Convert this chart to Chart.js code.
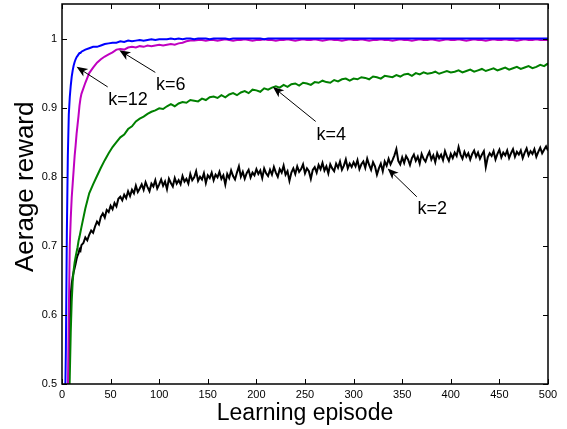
<!DOCTYPE html>
<html>
<head>
<meta charset="utf-8">
<script src="https://cdn.jsdelivr.net/npm/chart.js@4/dist/chart.umd.min.js"></script>
<style>
  body { margin: 0; background: #fff; }
  canvas { display: block; }
</style>
</head>
<body>
<canvas id="chart" width="567" height="429"></canvas>
<script>
const episodes = [
  1, 2, 3, 4, 5, 6, 7, 8, 9, 10, 11, 12, 13, 14, 15, 16, 17, 18, 19, 20,
  24, 28, 32, 36, 40, 44, 48, 52, 56, 60,
  64, 68, 72, 76, 80, 84, 88, 92, 96, 100,
  104, 108, 112, 116, 120, 124, 128, 132, 136, 140,
  144, 148, 152, 156, 160, 164, 168, 172, 176, 180,
  184, 188, 192, 196, 200, 204, 208, 212, 216, 220,
  224, 228, 232, 236, 240, 244, 248, 252, 256, 260,
  264, 268, 272, 276, 280, 284, 288, 292, 296, 300,
  304, 308, 312, 316, 320, 324, 328, 332, 336, 340,
  344, 348, 352, 356, 360, 364, 368, 372, 376, 380,
  384, 388, 392, 396, 400, 404, 408, 412, 416, 420,
  424, 428, 432, 436, 440, 444, 448, 452, 456, 460,
  464, 468, 472, 476, 480, 484, 488, 492, 496, 500
];

// the k=2 curve is noisier, so it was read more densely
const episodesFine = [
  1, 2, 3, 4, 5, 6, 7, 8, 9, 10, 11, 12, 13, 14, 15, 16, 17, 18, 19, 20,
  22, 24, 26, 28, 30, 32, 34, 36, 38, 40,
  42, 44, 46, 48, 50, 52, 54, 56, 58, 60,
  62, 64, 66, 68, 70, 72, 74, 76, 78, 80,
  82, 84, 86, 88, 90, 92, 94, 96, 98, 100,
  102, 104, 106, 108, 110, 112, 114, 116, 118, 120,
  122, 124, 126, 128, 130, 132, 134, 136, 138, 140,
  142, 144, 146, 148, 150, 152, 154, 156, 158, 160,
  162, 164, 166, 168, 170, 172, 174, 176, 178, 180,
  182, 184, 186, 188, 190, 192, 194, 196, 198, 200,
  202, 204, 206, 208, 210, 212, 214, 216, 218, 220,
  222, 224, 226, 228, 230, 232, 234, 236, 238, 240,
  242, 244, 246, 248, 250, 252, 254, 256, 258, 260,
  262, 264, 266, 268, 270, 272, 274, 276, 278, 280,
  282, 284, 286, 288, 290, 292, 294, 296, 298, 300,
  302, 304, 306, 308, 310, 312, 314, 316, 318, 320,
  322, 324, 326, 328, 330, 332, 334, 336, 338, 340,
  342, 344, 346, 348, 350, 352, 354, 356, 358, 360,
  362, 364, 366, 368, 370, 372, 374, 376, 378, 380,
  382, 384, 386, 388, 390, 392, 394, 396, 398, 400,
  402, 404, 406, 408, 410, 412, 414, 416, 418, 420,
  422, 424, 426, 428, 430, 432, 434, 436, 438, 440,
  442, 444, 446, 448, 450, 452, 454, 456, 458, 460,
  462, 464, 466, 468, 470, 472, 474, 476, 478, 480,
  482, 484, 486, 488, 490, 492, 494, 496, 498, 500
];

const rewardK12 = [
  0.20, 0.33, 0.45, 0.55, 0.72, 0.83, 0.89, 0.915, 0.932, 0.945, 0.954, 0.961, 0.966, 0.970, 0.973, 0.975, 0.977, 0.979, 0.979, 0.981,
  0.984, 0.986, 0.988, 0.988, 0.990, 0.992, 0.993, 0.994, 0.994, 0.996,
  0.995, 0.997, 0.996, 0.997, 0.998, 0.997, 0.998, 0.999, 0.998, 0.999,
  0.999, 0.999, 1.000, 0.999, 1.000, 0.999, 1.000, 1.000, 0.999, 1.000,
  1.000, 1.000, 0.999, 1.000, 1.000, 1.000, 1.000, 0.999, 1.000, 1.000,
  1.000, 1.000, 1.000, 1.000, 1.000, 1.000, 0.999, 1.000, 1.000, 1.000,
  1.000, 1.000, 1.000, 1.000, 1.000, 1.000, 1.000, 1.000, 1.000, 1.000,
  1.000, 1.000, 1.000, 1.000, 1.000, 1.000, 1.000, 1.000, 1.000, 1.000,
  1.000, 1.000, 1.000, 1.000, 1.000, 1.000, 1.000, 1.000, 1.000, 1.000,
  1.000, 1.000, 1.000, 1.000, 1.000, 1.000, 1.000, 1.000, 1.000, 1.000,
  1.000, 1.000, 1.000, 1.000, 1.000, 1.000, 1.000, 1.000, 1.000, 1.000,
  1.000, 1.000, 1.000, 1.000, 1.000, 1.000, 1.000, 1.000, 1.000, 1.000,
  1.000, 1.000, 1.000, 1.000, 1.000, 1.000, 1.000, 1.000, 1.000, 1.000
];

const rewardK6 = [
  0.10, 0.18, 0.26, 0.34, 0.42, 0.48, 0.60, 0.70, 0.74, 0.77, 0.79, 0.81, 0.83, 0.845, 0.862, 0.875, 0.888, 0.903, 0.913, 0.920,
  0.936, 0.950, 0.958, 0.965, 0.970, 0.974, 0.977, 0.980, 0.984, 0.985,
  0.984, 0.987, 0.988, 0.987, 0.989, 0.988, 0.990, 0.989, 0.990, 0.991,
  0.990, 0.991, 0.992, 0.991, 0.993, 0.994, 0.996, 0.997, 0.997, 0.998,
  0.998, 0.997, 0.998, 0.998, 0.997, 0.998, 0.999, 0.998, 0.997, 0.998,
  0.998, 0.999, 0.998, 0.997, 0.998, 0.998, 0.999, 0.998, 0.998, 0.997,
  0.998, 0.998, 0.999, 0.998, 0.997, 0.998, 0.999, 0.998, 0.998, 0.999,
  0.998, 0.997, 0.998, 0.999, 0.998, 0.998, 0.997, 0.998, 0.999, 0.998,
  0.998, 0.999, 0.998, 0.997, 0.998, 0.998, 0.999, 0.998, 0.998, 0.997,
  0.998, 0.999, 0.998, 0.998, 0.997, 0.998, 0.999, 0.998, 0.998, 0.999,
  0.998, 0.997, 0.998, 0.999, 0.998, 0.998, 0.999, 0.998, 0.997, 0.998,
  0.999, 0.998, 0.998, 0.997, 0.998, 0.999, 0.998, 0.998, 0.999, 0.998,
  0.998, 0.997, 0.998, 0.999, 0.998, 0.998, 0.999, 0.998, 0.998, 0.998
];

const rewardK4 = [
  0.10, 0.17, 0.24, 0.30, 0.36, 0.41, 0.45, 0.51, 0.575, 0.62, 0.648, 0.665, 0.676, 0.684, 0.691, 0.698, 0.707, 0.713, 0.720, 0.727,
  0.754, 0.776, 0.789, 0.801, 0.813, 0.824, 0.834, 0.843, 0.850, 0.857,
  0.861, 0.869, 0.873, 0.880, 0.884, 0.887, 0.891, 0.894, 0.896, 0.899,
  0.898, 0.902, 0.905, 0.902, 0.906, 0.908, 0.907, 0.911, 0.910, 0.909,
  0.913, 0.911, 0.915, 0.916, 0.914, 0.918, 0.915, 0.919, 0.921, 0.918,
  0.922, 0.924, 0.921, 0.926, 0.925, 0.923, 0.928, 0.926, 0.929, 0.931,
  0.929, 0.933, 0.930, 0.934, 0.935, 0.932, 0.936, 0.935, 0.933, 0.937,
  0.936, 0.939, 0.937, 0.936, 0.940, 0.938, 0.941, 0.942, 0.939, 0.942,
  0.941, 0.944, 0.943, 0.941, 0.945, 0.944, 0.942, 0.946, 0.945, 0.944,
  0.947, 0.945, 0.948, 0.949, 0.946, 0.950, 0.948, 0.951, 0.949, 0.950,
  0.952, 0.949, 0.951, 0.953, 0.951, 0.952, 0.954, 0.951, 0.953, 0.955,
  0.952, 0.954, 0.956, 0.953, 0.955, 0.957, 0.954, 0.956, 0.958, 0.955,
  0.957, 0.959, 0.956, 0.958, 0.960, 0.957, 0.959, 0.962, 0.960, 0.964
];

const rewardK2 = [
  0.20, 0.30, 0.38, 0.43, 0.45, 0.47, 0.50, 0.59, 0.63, 0.645, 0.655, 0.662, 0.668, 0.674, 0.681, 0.686, 0.689, 0.695, 0.693, 0.701,
  0.704, 0.712, 0.708, 0.716, 0.722, 0.719, 0.728, 0.735, 0.731, 0.742,
  0.747, 0.741, 0.752, 0.749, 0.758, 0.753, 0.762, 0.757, 0.768, 0.771,
  0.766, 0.774, 0.769, 0.779, 0.772, 0.781, 0.776, 0.787, 0.778, 0.783,
  0.789, 0.781, 0.792, 0.785, 0.779, 0.790, 0.786, 0.795, 0.783, 0.789,
  0.796, 0.787, 0.793, 0.782, 0.797, 0.791, 0.786, 0.798, 0.790, 0.795,
  0.789, 0.801, 0.793, 0.797, 0.790, 0.804, 0.795, 0.799, 0.808, 0.794,
  0.800, 0.796, 0.805, 0.791, 0.802, 0.798, 0.806, 0.795, 0.803, 0.799,
  0.807, 0.797, 0.802, 0.789, 0.804, 0.798, 0.809, 0.801, 0.796, 0.806,
  0.815, 0.800, 0.807, 0.797, 0.805, 0.810, 0.799, 0.806, 0.802, 0.811,
  0.804, 0.809, 0.798, 0.812, 0.805, 0.801, 0.810, 0.803, 0.814, 0.806,
  0.800, 0.811, 0.806, 0.816, 0.803, 0.808, 0.794, 0.806, 0.812, 0.804,
  0.815, 0.807, 0.811, 0.818, 0.805, 0.812, 0.808, 0.797, 0.810, 0.814,
  0.806, 0.817, 0.811, 0.820, 0.809, 0.815, 0.805, 0.818, 0.812, 0.808,
  0.819, 0.813, 0.822, 0.810, 0.816, 0.825, 0.812, 0.819, 0.814, 0.821,
  0.815, 0.824, 0.811, 0.818, 0.822, 0.813, 0.826, 0.817, 0.810, 0.821,
  0.815, 0.803, 0.812, 0.819, 0.808, 0.822, 0.816, 0.826, 0.818, 0.824,
  0.831, 0.840, 0.823, 0.818, 0.828, 0.820, 0.830, 0.825, 0.817, 0.827,
  0.832, 0.823, 0.829, 0.819, 0.833, 0.826, 0.822, 0.830, 0.836, 0.825,
  0.831, 0.821, 0.834, 0.827, 0.832, 0.824, 0.837, 0.829, 0.823, 0.833,
  0.827, 0.835, 0.830, 0.843, 0.832, 0.826, 0.836, 0.829, 0.834, 0.825,
  0.833, 0.838, 0.829, 0.835, 0.826, 0.832, 0.837, 0.814, 0.828, 0.834,
  0.830, 0.837, 0.825, 0.833, 0.839, 0.828, 0.835, 0.831, 0.838, 0.827,
  0.834, 0.840, 0.829, 0.836, 0.832, 0.838, 0.827, 0.835, 0.841, 0.831,
  0.837, 0.833, 0.840, 0.829, 0.836, 0.842, 0.834, 0.839, 0.844, 0.838
];

const seriesNames = ["k=12", "k=6", "k=4", "k=2"];
const seriesColors = ["#0000ff", "#c000c0", "#008000", "#000000"];
const seriesX = [episodes, episodes, episodes, episodesFine];
const seriesValues = [rewardK12, rewardK6, rewardK4, rewardK2];

const xTicks = [0, 50, 100, 150, 200, 250, 300, 350, 400, 450, 500];
const yTicks = [0.5, 0.6, 0.7, 0.8, 0.9, 1];

// label text, where the text sits, arrow tail and arrow tip (data units)
const notes = [
  { text: "k=12", at: [68, 0.911], from: [47, 0.930], to: [15, 0.959] },
  { text: "k=6", at: [112, 0.933], from: [96, 0.951], to: [59, 0.983] },
  { text: "k=4", at: [277, 0.860], from: [261, 0.880], to: [217, 0.930] },
  { text: "k=2", at: [381, 0.753], from: [365, 0.771], to: [335, 0.812] }
];

const FONT = "'Liberation Sans', Arial, Helvetica, sans-serif";

const frame = {
  id: "frame",
  beforeDraw(chart) {
    const c = chart.ctx;
    c.save();
    c.fillStyle = "#fff";
    c.fillRect(0, 0, chart.width, chart.height);
    c.restore();
  },
  afterDatasetsDraw(chart) {
    const c = chart.ctx;
    const { left, right, top, bottom } = chart.chartArea;
    const sx = chart.scales.x, sy = chart.scales.y;
    c.save();
    c.strokeStyle = "#000";
    c.lineWidth = 1.5;
    c.strokeRect(left, top, right - left, bottom - top);
    c.lineWidth = 1;
    c.beginPath();
    xTicks.forEach(v => {
      const px = Math.round(sx.getPixelForValue(v)) + 0.5;
      c.moveTo(px, bottom); c.lineTo(px, bottom - 5);
      c.moveTo(px, top); c.lineTo(px, top + 5);
    });
    yTicks.forEach(v => {
      const py = Math.round(sy.getPixelForValue(v)) + 0.5;
      c.moveTo(left, py); c.lineTo(left + 5, py);
      c.moveTo(right, py); c.lineTo(right - 5, py);
    });
    c.stroke();

    // labels with arrows
    c.fillStyle = "#000";
    c.font = "18px " + FONT;
    c.textAlign = "center";
    c.textBaseline = "middle";
    notes.forEach(n => {
      const tx = sx.getPixelForValue(n.at[0]), ty = sy.getPixelForValue(n.at[1]);
      c.fillText(n.text, tx, ty);
      const x0 = sx.getPixelForValue(n.from[0]), y0 = sy.getPixelForValue(n.from[1]);
      const x1 = sx.getPixelForValue(n.to[0]), y1 = sy.getPixelForValue(n.to[1]);
      const len = Math.hypot(x1 - x0, y1 - y0);
      const ux = (x1 - x0) / len, uy = (y1 - y0) / len;
      c.beginPath();
      c.moveTo(x0, y0);
      c.lineTo(x1 - ux * 6, y1 - uy * 6);
      c.stroke();
      const L = 11, W = 4.5;
      c.beginPath();
      c.moveTo(x1, y1);
      c.lineTo(x1 - ux * L - uy * W, y1 - uy * L + ux * W);
      c.lineTo(x1 - ux * (L - 3), y1 - uy * (L - 3));
      c.lineTo(x1 - ux * L + uy * W, y1 - uy * L - ux * W);
      c.closePath();
      c.fill();
    });
    c.restore();
  }
};

new Chart(document.getElementById("chart"), {
  type: "line",
  data: {
    datasets: seriesValues.map((vals, i) => ({
      label: seriesNames[i],
      data: seriesX[i].map((e, j) => ({ x: e, y: vals[j] })),
      borderColor: seriesColors[i],
      backgroundColor: seriesColors[i],
      borderWidth: 2,
      pointRadius: 0,
      tension: 0,
      fill: false
    }))
  },
  options: {
    responsive: false,
    animation: false,
    layout: { padding: { top: 4, right: 19, left: 0, bottom: 0 } },
    plugins: { legend: { display: false }, tooltip: { enabled: false } },
    scales: {
      x: {
        type: "linear",
        min: 0,
        max: 500,
        grid: { display: false, drawTicks: false },
        border: { display: false },
        ticks: {
          stepSize: 50,
          maxRotation: 0,
          padding: 4,
          color: "#000",
          font: { family: FONT, size: 11 }
        },
        title: {
          display: true,
          text: "Learning episode",
          color: "#000",
          font: { family: FONT, size: 23 },
          padding: { top: 0, bottom: 2 }
        },
        afterFit(a) { a.height = 45; a.paddingLeft = 0; a.paddingRight = 0; }
      },
      y: {
        type: "linear",
        min: 0.5,
        max: 1.05,
        grid: { display: false, drawTicks: false },
        border: { display: false },
        ticks: {
          stepSize: 0.1,
          padding: 5,
          color: "#000",
          font: { family: FONT, size: 11 },
          callback: v => String(Math.round(v * 10) / 10)
        },
        afterBuildTicks(a) { a.ticks = a.ticks.filter(t => t.value <= 1.0001); },
        title: {
          display: true,
          text: "  Aerage reward",
          color: "#000",
          font: { family: FONT, size: 26 },
          padding: { top: 10, bottom: 0 }
        },
        afterFit(a) { a.width = 62; a.paddingTop = 0; a.paddingBottom = 0; }
      }
    }
  },
  plugins: [frame]
});
</script>
</body>
</html>
